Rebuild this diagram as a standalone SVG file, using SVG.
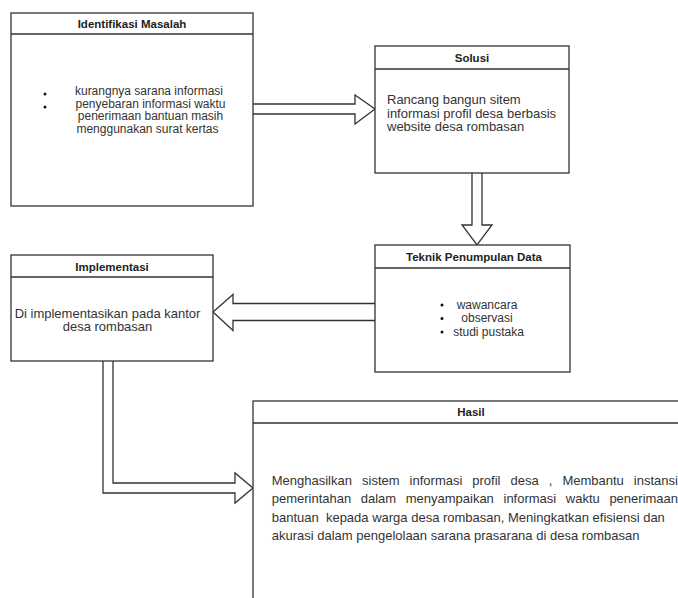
<svg xmlns="http://www.w3.org/2000/svg" width="678" height="598" viewBox="0 0 678 598">
<style>
  .box { fill: #ffffff; stroke: #333333; stroke-width: 1.3; }
  .hdr { fill: none; stroke: #333333; stroke-width: 1.3; }
  .title { font-family: "Liberation Sans", Arial, sans-serif; font-size: 11.5px; font-weight: bold; fill: #222222; text-anchor: middle; }
  .body { font-family: "Liberation Sans", Arial, sans-serif; fill: #333333; }
  .s12 { font-size: 12px; }
  .s13 { font-size: 13px; }
  .mid { text-anchor: middle; }
  .dot { fill: #111111; }
  .arrow { fill: #ffffff; stroke: #333333; stroke-width: 1.3; stroke-linejoin: miter; }
</style>
<rect width="678" height="598" fill="#ffffff"/>

<g id="connectors">
  <path class="arrow" d="M253,104 H355 V95 L375,109 L355,124 V114 H253"/>
  <path class="arrow" d="M472,173 V225 H462 L477,245 L492,225 H482 V173"/>
  <path class="arrow" d="M375,303.5 H233 V294.5 L213,312 L233,330.5 V320.5 H375"/>
  <path class="arrow" d="M103,361 V493 H235 V503 L253,488 L235,473 V483 H113 V361"/>
</g>

<g id="identifikasi-masalah">
  <rect class="box" x="11" y="13" width="242" height="193"/>
  <line class="hdr" x1="11" y1="34" x2="253" y2="34"/>
  <text class="title" x="132" y="28">Identifikasi Masalah</text>
  <circle class="dot" cx="45" cy="94" r="1.5"/>
  <circle class="dot" cx="45" cy="107" r="1.5"/>
  <text class="body s12 mid" x="149" y="95">kurangnya sarana informasi</text>
  <text class="body s12 mid" x="150.5" y="107.5">penyebaran informasi waktu</text>
  <text class="body s12 mid" x="150.5" y="120">penerimaan bantuan masih</text>
  <text class="body s12 mid" x="147.5" y="132.5">menggunakan surat kertas</text>
</g>

<g id="solusi">
  <rect class="box" x="375" y="46" width="194" height="127"/>
  <line class="hdr" x1="375" y1="69" x2="569" y2="69"/>
  <text class="title" x="472" y="62">Solusi</text>
  <text class="body s13" x="387" y="104">Rancang bangun sitem</text>
  <text class="body s13" x="387" y="117.5">informasi profil desa berbasis</text>
  <text class="body s13" x="387" y="131">website desa rombasan</text>
</g>

<g id="teknik-penumpulan-data">
  <rect class="box" x="375" y="245" width="195" height="127"/>
  <line class="hdr" x1="375" y1="268" x2="570" y2="268"/>
  <text class="title" x="474" y="261">Teknik Penumpulan Data</text>
  <circle class="dot" cx="442" cy="305" r="1.5"/>
  <circle class="dot" cx="442" cy="318.5" r="1.5"/>
  <circle class="dot" cx="442" cy="332" r="1.5"/>
  <text class="body s12 mid" x="487" y="308.5">wawancara</text>
  <text class="body s12 mid" x="487" y="322">observasi</text>
  <text class="body s12 mid" x="488.5" y="335.5">studi pustaka</text>
</g>

<g id="implementasi">
  <rect class="box" x="11" y="255" width="202" height="106"/>
  <line class="hdr" x1="11" y1="277" x2="213" y2="277"/>
  <text class="title" x="112" y="271">Implementasi</text>
  <text class="body s13 mid" x="107.5" y="317.5">Di implementasikan pada kantor</text>
  <text class="body s13 mid" x="107.5" y="331">desa rombasan</text>
</g>

<g id="hasil">
  <rect class="box" x="253" y="401" width="436" height="210"/>
  <line class="hdr" x1="253" y1="423" x2="689" y2="423"/>
  <text class="title" x="471" y="416">Hasil</text>
  <text class="body s13" y="484.5"><tspan x="271.7">Menghasilkan</tspan><tspan x="362">sistem</tspan><tspan x="409.6">informasi</tspan><tspan x="472.3">profil</tspan><tspan x="510.5">desa</tspan><tspan x="548.7">,</tspan><tspan x="562.4">Membantu</tspan><tspan x="633.8">instansi</tspan></text>
  <text class="body s13" y="503"><tspan x="271.7">pemerintahan</tspan><tspan x="360.7">dalam</tspan><tspan x="405.7">menyampaikan</tspan><tspan x="503.5">informasi</tspan><tspan x="565.8">waktu</tspan><tspan x="609.4">penerimaan</tspan></text>
  <text class="body s13" x="271.7" y="521.5" xml:space="preserve">bantuan  kepada warga desa rombasan, Meningkatkan efisiensi dan</text>
  <text class="body s13" x="271.7" y="540">akurasi dalam pengelolaan sarana prasarana di desa rombasan</text>
</g>
</svg>
